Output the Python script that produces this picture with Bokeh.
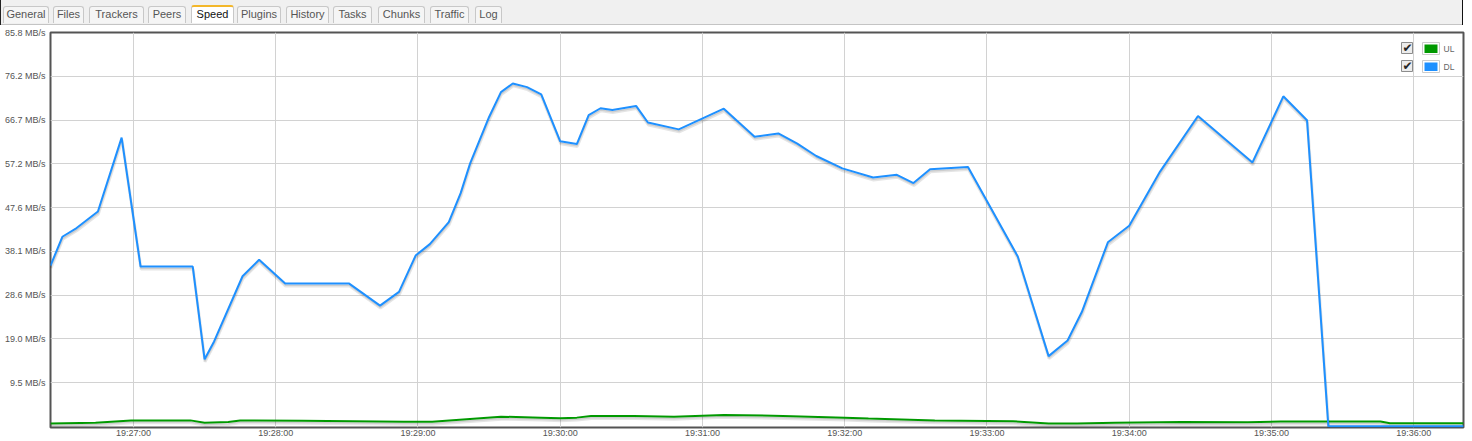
import pandas as pd
from bokeh.plotting import figure
from bokeh.models import Range1d, FixedTicker, ColumnDataSource, Div
from bokeh.layouts import column
from bokeh.core.properties import value
from bokeh.embed import file_html
from bokeh.resources import INLINE

# ---------------- data ----------------
DAY = "2014-05-10 "

dl_times = ["19:26:25", "19:26:30", "19:26:36", "19:26:45", "19:26:55", "19:27:03", "19:27:25",
            "19:27:30", "19:27:34", "19:27:46", "19:27:53", "19:28:04", "19:28:31", "19:28:44",
            "19:28:52", "19:28:59", "19:29:05", "19:29:13", "19:29:18", "19:29:22", "19:29:30",
            "19:29:35", "19:29:40", "19:29:46", "19:29:52", "19:30:00", "19:30:07", "19:30:12",
            "19:30:17", "19:30:22", "19:30:32", "19:30:37", "19:30:50", "19:31:09", "19:31:22",
            "19:31:32", "19:31:40", "19:31:48", "19:31:59", "19:32:12", "19:32:22", "19:32:29",
            "19:32:36", "19:32:52", "19:33:13", "19:33:26", "19:33:34", "19:33:40", "19:33:51",
            "19:34:00", "19:34:13", "19:34:29", "19:34:52", "19:35:05", "19:35:15", "19:35:24",
            "19:36:21"]
dl_speed = [35.0, 41.3, 43.2, 46.8, 62.9, 34.8, 34.8,
            14.6, 18.5, 32.7, 36.3, 31.1, 31.1, 26.3,
            29.3, 37.2, 39.7, 44.5, 50.8, 57.3, 67.4,
            72.8, 74.7, 73.9, 72.3, 62.1, 61.5, 67.8,
            69.3, 68.9, 69.8, 66.2, 64.7, 69.2, 63.1,
            63.8, 61.6, 58.9, 56.2, 54.2, 54.8, 53.0,
            56.0, 56.5, 37.0, 15.3, 18.7, 24.9, 40.1,
            43.7, 55.5, 67.6, 57.5, 71.9, 66.7, 0.0,
            0.0]

ul_times = ["19:26:25", "19:26:44", "19:26:59", "19:27:24", "19:27:30", "19:27:40", "19:27:45",
            "19:28:11", "19:28:54", "19:29:06", "19:29:35", "19:29:52", "19:30:00", "19:30:07",
            "19:30:13", "19:30:31", "19:30:48", "19:31:09", "19:31:34", "19:32:00", "19:32:10",
            "19:32:38", "19:33:11", "19:33:26", "19:33:38", "19:33:54", "19:34:22", "19:34:50",
            "19:35:04", "19:35:46", "19:35:50", "19:36:21"]
ul_speed = [0.6, 0.8, 1.3, 1.3, 0.8, 0.95, 1.3,
            1.2, 1.0, 1.0, 2.1, 1.9, 1.76, 1.9,
            2.26, 2.26, 2.1, 2.5, 2.26, 1.9, 1.7,
            1.3, 1.1, 0.6, 0.6, 0.8, 0.95, 0.9,
            1.04, 1.04, 0.67, 0.67]

y_max = 85.8
y_tick_labels = ["9.5 MB/s", "19.0 MB/s", "28.6 MB/s", "38.1 MB/s", "47.6 MB/s",
                 "57.2 MB/s", "66.7 MB/s", "76.2 MB/s", "85.8 MB/s"]
x_tick_labels = ["19:27:00", "19:28:00", "19:29:00", "19:30:00", "19:31:00",
                 "19:32:00", "19:33:00", "19:34:00", "19:35:00", "19:36:00"]
x_start, x_end = "19:26:25", "19:36:21"

series_names = ["UL", "DL"]
series_colors = ["#009900", "#1e90ff"]

tab_names = ["General", "Files", "Trackers", "Peers", "Speed", "Plugins",
             "History", "Tasks", "Chunks", "Traffic", "Log"]
active_tab = "Speed"

# ---------------- layout / style ----------------
FONT = value("Liberation Sans")
PAGE_W, PAGE_H = 1472, 441
TAB_H = 25
MB_L, MB_R, MB_T, MB_B = 50, 9, 7, 14
FRAME_W = PAGE_W - MB_L - MB_R
FRAME_H = PAGE_H - TAB_H - MB_T - MB_B


def ms(t):
    return pd.Timestamp(DAY + t).value / 1e6


x0, x1 = ms(x_start), ms(x_end)
y0 = -0.25

p = figure(width=PAGE_W, height=PAGE_H - TAB_H, x_axis_type="datetime",
           output_backend="svg", toolbar_location=None,
           x_range=Range1d(x0, x1), y_range=Range1d(y0, y_max),
           min_border_left=MB_L, min_border_right=MB_R,
           min_border_top=MB_T, min_border_bottom=MB_B)
p.background_fill_color = "white"
p.border_fill_color = "white"
p.outline_line_color = "#545454"
p.outline_line_width = 2

x_ticks = [ms(t) for t in x_tick_labels]
y_ticks = [y_max * (i + 1) / len(y_tick_labels) for i in range(len(y_tick_labels))]

p.xaxis.ticker = FixedTicker(ticks=x_ticks)
p.yaxis.ticker = FixedTicker(ticks=y_ticks)
p.xaxis.major_label_overrides = {t: s for t, s in zip(x_ticks, x_tick_labels)}
p.yaxis.major_label_overrides = {t: s for t, s in zip(y_ticks, y_tick_labels)}
p.xgrid.ticker = FixedTicker(ticks=x_ticks)
p.ygrid.ticker = FixedTicker(ticks=y_ticks)
for g in (p.xgrid, p.ygrid):
    g.grid_line_color = "#d2d2d2"
    g.grid_line_width = 1
for ax in (p.xaxis, p.yaxis):
    ax.axis_line_color = None
    ax.major_tick_line_color = None
    ax.minor_tick_line_color = None
    ax.major_tick_out = 0
    ax.major_tick_in = 0
    ax.minor_tick_out = 0
    ax.minor_tick_in = 0
    ax.major_label_text_font = "Liberation Sans"
    ax.major_label_text_font_size = "9px"
    ax.major_label_text_color = "#545454"
p.xaxis.major_label_standoff = 0
p.yaxis.major_label_standoff = 5

px_per_unit = FRAME_H / (y_max - y0)
ms_per_px = (x1 - x0) / FRAME_W

# series with flot-like shadows
for times, speeds, color in ((ul_times, ul_speed, series_colors[0]),
                             (dl_times, dl_speed, series_colors[1])):
    t = [ms(s) for s in times]
    for dx, dy, w in ((0.43, 2.46, 3), (0.30, 1.72, 1.5)):
        p.line([v + dx * ms_per_px for v in t], [v - dy / px_per_unit for v in speeds],
               line_color="black", line_alpha=0.1, line_width=w)
    src = ColumnDataSource(dict(t=t, v=speeds))
    p.line("t", "v", source=src, line_color=color, line_width=2)


# legend (checkbox, colour box, label) placed in pixels from the frame's top-right
def fx(px):
    return x0 + px * ms_per_px


def fy(py):
    return y_max - py / px_per_unit


for i, (name, color) in enumerate(zip(series_names, series_colors)):
    top = 10 + 18 * i
    p.quad(left=fx(FRAME_W - 62), right=fx(FRAME_W - 51), top=fy(top), bottom=fy(top + 11),
           fill_color="#ececec", line_color="#8c8c8c", line_width=1)
    p.text(x=[fx(FRAME_W - 56)], y=[fy(top + 5)], text=["\u2714"],
           text_font=value("DejaVu Sans"), text_font_size="12px", text_color="#262626",
           text_align="center", text_baseline="middle")
    p.quad(left=fx(FRAME_W - 41), right=fx(FRAME_W - 24), top=fy(top), bottom=fy(top + 12),
           fill_color="white", line_color="#cccccc", line_width=1)
    p.quad(left=fx(FRAME_W - 39), right=fx(FRAME_W - 26), top=fy(top + 2), bottom=fy(top + 10.5),
           fill_color=color, line_color=None)
    p.text(x=[fx(FRAME_W - 20)], y=[fy(top + 6)], text=[name], text_font=FONT,
           text_font_size="8.5px", text_color="#666666", text_align="left", text_baseline="middle")

# ---------------- tab strip (HTML) ----------------
tab_left = [3, 53, 89, 148, 191, 237, 286, 333, 378, 430, 475]
tab_right = [51, 86, 146, 188, 236, 283, 331, 374, 427, 471, 504]

parts = [
    f'<div style="position:relative;width:{PAGE_W}px;height:{TAB_H}px;overflow:hidden;'
    'background:#ffffff;font-family:\'Liberation Sans\',Arial,sans-serif;font-size:11px;">',
    '<div style="position:absolute;left:0;top:0;width:1462px;height:24px;background:#f0f0f0;"></div>',
    '<div style="position:absolute;left:0;top:24px;width:1462px;height:1px;background:#c4c4c4;"></div>',
    '<div style="position:absolute;left:0;top:0;width:1px;height:25px;background:#222;"></div>',
    '<div style="position:absolute;left:1462px;top:0;width:1px;height:25px;background:#111;"></div>',
]
for name, l, r in zip(tab_names, tab_left, tab_right):
    active = name == active_tab
    if active:
        style = (f"left:{l}px;top:5px;width:{r - l - 2}px;height:18px;"
                 "border:1px solid #c8c8c8;border-top:2px solid #f3b72a;border-bottom:none;"
                 "background:#ffffff;color:#111111;z-index:2;")
    else:
        style = (f"left:{l}px;top:6px;width:{r - l - 2}px;height:17px;"
                 "border:1px solid #c8c8c8;border-bottom:none;"
                 "background:#f5f5f5;color:#555555;z-index:1;")
    parts.append(f'<div style="position:absolute;{style}border-radius:3px 3px 0 0;'
                 f'text-align:center;line-height:15px;white-space:nowrap;">{name}</div>')
parts.append("</div>")

tabs = Div(text="".join(parts), width=PAGE_W, height=TAB_H, margin=0)

layout = column(tabs, p, spacing=0)
open("out.html", "w").write(file_html(layout, INLINE))
